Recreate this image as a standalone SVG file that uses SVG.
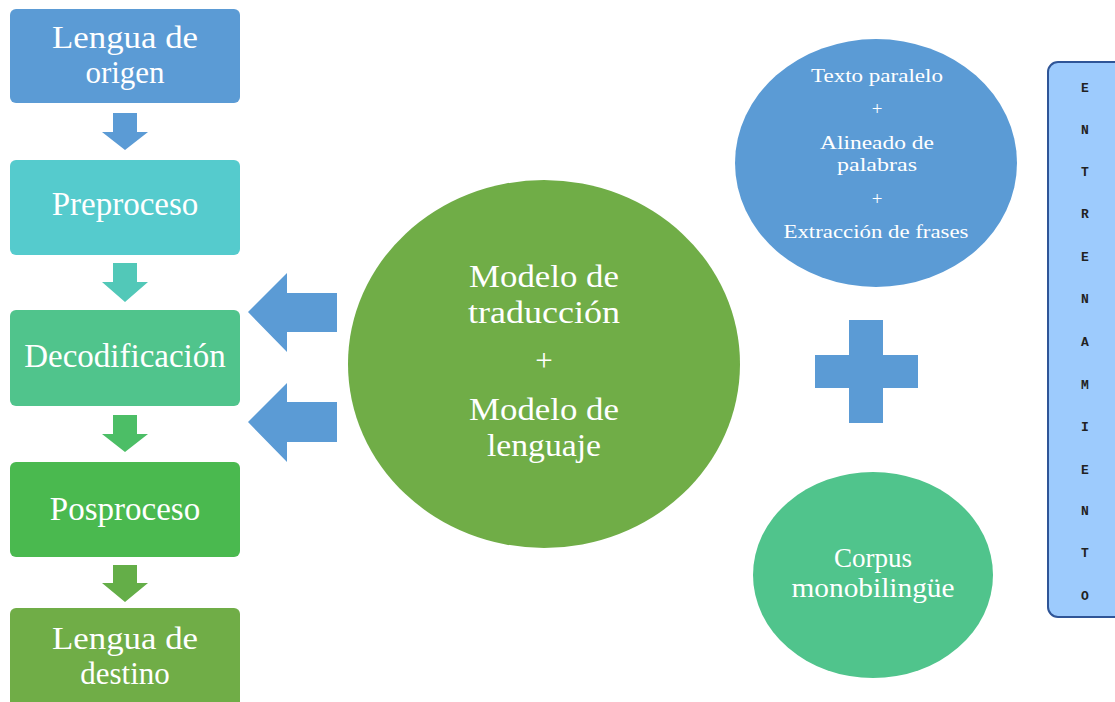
<svg xmlns="http://www.w3.org/2000/svg" width="1115" height="702" viewBox="0 0 1115 702">
<style>
.t{font-family:"Liberation Serif","Times New Roman",serif;fill:#fff;text-anchor:middle}
.b{font-size:33px}
.d{font-size:31px}
.c{font-size:31px}
.s{font-size:19px}
.m{font-size:27px}
.v{font-family:"Liberation Mono","Courier New",monospace;font-size:13px;font-weight:bold;fill:#222;text-anchor:middle}
</style>
<rect width="1115" height="702" fill="#fff"/>
<g id="connectors">
<path d="M113 113H137V132H148L125 150L102 132H113Z" fill="#5B9BD5"/>
<path d="M113 263H137V282H148L125 302L102 282H113Z" fill="#52C8B8"/>
<path d="M113 415H137V434H148L125 452L102 434H113Z" fill="#4CBE66"/>
<path d="M113 565H137V583H148L125 602L102 583H113Z" fill="#64AE48"/>
<path d="M337 293V332H287V352L248 312L287 273V293Z" fill="#5B9BD5"/>
<path d="M337 402V442H287V462L248 422L287 383V402Z" fill="#5B9BD5"/>
</g>
<g id="n-origen">
<rect x="10" y="9" width="230" height="94" rx="6" fill="#5B9BD5"/>
<text class="t d" x="125" y="48" textLength="146" lengthAdjust="spacingAndGlyphs">Lengua de</text>
<text class="t d" x="125" y="83">origen</text>
</g>
<g id="n-preproceso">
<rect x="10" y="160" width="230" height="95" rx="6" fill="#55CBCD"/>
<text class="t b" x="125" y="215">Preproceso</text>
</g>
<g id="n-decodificacion">
<rect x="10" y="310" width="230" height="96" rx="6" fill="#50C48C"/>
<text class="t b" x="125" y="367">Decodificación</text>
</g>
<g id="n-posproceso">
<rect x="10" y="462" width="230" height="95" rx="6" fill="#4AB94F"/>
<text class="t b" x="125" y="520">Posproceso</text>
</g>
<g id="n-destino">
<rect x="10" y="608" width="230" height="100" rx="6" fill="#70AD47"/>
<text class="t d" x="125" y="649" textLength="146" lengthAdjust="spacingAndGlyphs">Lengua de</text>
<text class="t d" x="125" y="684">destino</text>
</g>
<g id="n-modelo">
<ellipse cx="544" cy="364" rx="196" ry="184" fill="#70AD47"/>
<text class="t c" x="544" y="287" textLength="150" lengthAdjust="spacingAndGlyphs">Modelo de</text>
<text class="t c" x="544" y="323" textLength="152" lengthAdjust="spacingAndGlyphs">traducción</text>
<text class="t c" x="544" y="371">+</text>
<text class="t c" x="544" y="420" textLength="150" lengthAdjust="spacingAndGlyphs">Modelo de</text>
<text class="t c" x="544" y="456" textLength="114" lengthAdjust="spacingAndGlyphs">lenguaje</text>
</g>
<g id="n-texto">
<ellipse cx="876" cy="163" rx="141" ry="124" fill="#5B9BD5"/>
<text class="t s" x="877" y="82" textLength="132" lengthAdjust="spacingAndGlyphs">Texto paralelo</text>
<text class="t s" x="877" y="115">+</text>
<text class="t s" x="877" y="149" textLength="114" lengthAdjust="spacingAndGlyphs">Alineado de</text>
<text class="t s" x="877" y="171" textLength="80" lengthAdjust="spacingAndGlyphs">palabras</text>
<text class="t s" x="877" y="205">+</text>
<text class="t s" x="876" y="238" textLength="185" lengthAdjust="spacingAndGlyphs">Extracción de frases</text>
</g>
<g id="n-plus">
<path d="M849 320H883V355H918V388H883V423H849V388H815V355H849Z" fill="#5B9BD5"/>
</g>
<g id="n-corpus">
<ellipse cx="873" cy="575" rx="120" ry="103" fill="#50C48C"/>
<text class="t m" x="873" y="567">Corpus</text>
<text class="t m" x="873" y="597" textLength="163" lengthAdjust="spacingAndGlyphs">monobilingüe</text>
</g>
<g id="n-entrenamiento">
<rect x="1048" y="62" width="80" height="555" rx="10" fill="#9DCBFD" stroke="#2F5597" stroke-width="2"/>
<text class="v" x="1085" y="92">E</text>
<text class="v" x="1085" y="134">N</text>
<text class="v" x="1085" y="176">T</text>
<text class="v" x="1085" y="218">R</text>
<text class="v" x="1085" y="261">E</text>
<text class="v" x="1085" y="303">N</text>
<text class="v" x="1085" y="346">A</text>
<text class="v" x="1085" y="389">M</text>
<text class="v" x="1085" y="431">I</text>
<text class="v" x="1085" y="474">E</text>
<text class="v" x="1085" y="515">N</text>
<text class="v" x="1085" y="557">T</text>
<text class="v" x="1085" y="600">O</text>
</g>
</svg>
